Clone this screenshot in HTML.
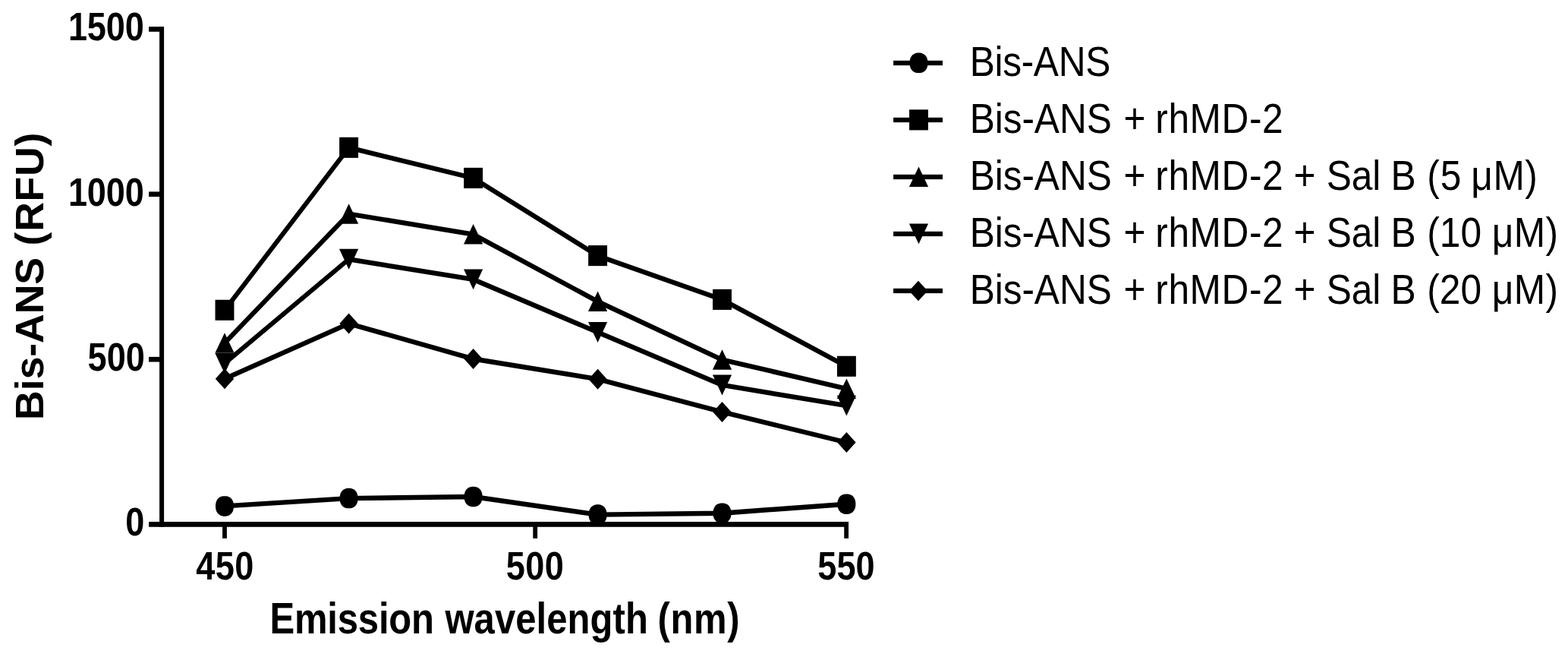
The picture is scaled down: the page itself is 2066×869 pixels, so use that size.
<!DOCTYPE html>
<html lang="en">
<head>
<meta charset="utf-8">
<title>Bis-ANS fluorescence emission</title>
<style>
html,body{margin:0;padding:0;background:#fff;}
body{width:2066px;height:869px;overflow:hidden;}
svg{display:block;}
text{font-family:"Liberation Sans",Arial,Helvetica,sans-serif;fill:#000;white-space:pre;}
</style>
</head>
<body>
<svg width="2066" height="869" viewBox="0 0 2066 869" role="img" aria-label="Bis-ANS fluorescence emission spectra">
<rect width="2066" height="869" fill="#fff"/>
<g id="axes" fill="#000">
<rect x="210.1" y="35.1" width="6" height="658.7"/>
<rect x="196.1" y="687" width="921.9" height="6.8"/>
<rect x="196.1" y="35.15" width="16" height="6.6"/>
<rect x="196.1" y="252.4" width="16" height="6.6"/>
<rect x="196.1" y="469.9" width="16" height="6.6"/>
<rect x="293.1" y="687" width="5.8" height="21.9"/>
<rect x="702.3" y="687" width="5.8" height="21.9"/>
<rect x="1112.25" y="687" width="5.8" height="21.9"/>
</g>
<g id="ticklabels">
<text transform="translate(0,53.25) scale(0.4510,0.5120)" font-size="100" font-weight="bold"><tspan x="199.43" letter-spacing="-0.319">1500</tspan></text>
<text transform="translate(0,270.5) scale(0.4510,0.5120)" font-size="100" font-weight="bold"><tspan x="199.43" letter-spacing="-0.319">1000</tspan></text>
<text transform="translate(0,488) scale(0.4510,0.5120)" font-size="100" font-weight="bold"><tspan x="256.17" letter-spacing="0.073">500</tspan></text>
<text transform="translate(0,705.25) scale(0.4510,0.5120)" font-size="100" font-weight="bold"><tspan x="366.62">0</tspan></text>
<text transform="translate(0,763) scale(0.4510,0.5120)" font-size="100" font-weight="bold"><tspan x="572.78" letter-spacing="0.75">450</tspan></text>
<text transform="translate(0,763) scale(0.4510,0.5120)" font-size="100" font-weight="bold"><tspan x="1478.12" letter-spacing="1.07">500</tspan></text>
<text transform="translate(0,763) scale(0.4510,0.5120)" font-size="100" font-weight="bold"><tspan x="2388.77" letter-spacing="0.073">550</tspan></text>
</g>
<g id="titles">
<text transform="translate(0,833.75) scale(0.4900,0.5700)" font-size="100" font-weight="bold"><tspan x="725.49" letter-spacing="-0.367">Emission</tspan> <tspan x="1196.78" letter-spacing="0.162">wavelength</tspan> <tspan x="1768.47" letter-spacing="1.303">(nm)</tspan></text>
<text transform="translate(57.45,560) rotate(-90) scale(0.5370,0.5120)" font-size="100" font-weight="bold"><tspan x="13.18" letter-spacing="-0.236">Bis-ANS</tspan> <tspan x="440.62" letter-spacing="1.244">(RFU)</tspan></text>
</g>
<g id="lines" transform="scale(0.905,1)" fill="none" stroke="#000" stroke-width="6.4" stroke-linejoin="miter" stroke-linecap="butt">
<polyline points="327.07,666.4 507.85,656.1 689.06,654 870.28,677.6 1051.38,675.7 1232.49,663.7"/>
<polyline points="327.07,408.4 507.85,194.4 689.06,234.5 870.28,336.7 1051.38,394.5 1232.49,482.4"/>
<polyline points="327.07,451.6 507.85,281.6 689.06,308.5 870.28,397 1051.38,473.6 1232.49,511.8"/>
<polyline points="327.07,478.5 507.85,341.3 689.06,367.9 870.28,437.5 1051.38,507 1232.49,534.2"/>
<polyline points="327.07,498.7 507.85,426.1 689.06,472.5 870.28,499.2 1051.38,542.4 1232.49,582.5"/>
</g>
<g id="markers" fill="#000">
<polygon points="307.95,668.09 307.54,670.83 306.73,673.22 305.55,675.28 304.01,676.98 302.15,678.29 300,679.19 297.52,679.64 294.48,679.64 292,679.19 289.85,678.29 287.99,676.98 286.45,675.28 285.27,673.22 284.46,670.83 284.05,668.09 284.05,664.71 284.46,661.97 285.27,659.58 286.45,657.52 287.99,655.82 289.85,654.51 292,653.61 294.48,653.16 297.52,653.16 300,653.61 302.15,654.51 304.01,655.82 305.55,657.52 306.73,659.58 307.54,661.97 307.95,664.71"/>
<polygon points="471.55,657.79 471.14,660.53 470.33,662.92 469.15,664.98 467.61,666.68 465.75,667.99 463.6,668.89 461.12,669.34 458.08,669.34 455.6,668.89 453.45,667.99 451.59,666.68 450.05,664.98 448.87,662.92 448.06,660.53 447.65,657.79 447.65,654.41 448.06,651.67 448.87,649.28 450.05,647.22 451.59,645.52 453.45,644.21 455.6,643.31 458.08,642.86 461.12,642.86 463.6,643.31 465.75,644.21 467.61,645.52 469.15,647.22 470.33,649.28 471.14,651.67 471.55,654.41"/>
<polygon points="635.55,655.69 635.14,658.43 634.33,660.82 633.15,662.88 631.61,664.58 629.75,665.89 627.6,666.79 625.12,667.24 622.08,667.24 619.6,666.79 617.45,665.89 615.59,664.58 614.05,662.88 612.87,660.82 612.06,658.43 611.65,655.69 611.65,652.31 612.06,649.57 612.87,647.18 614.05,645.12 615.59,643.42 617.45,642.11 619.6,641.21 622.08,640.76 625.12,640.76 627.6,641.21 629.75,642.11 631.61,643.42 633.15,645.12 634.33,647.18 635.14,649.57 635.55,652.31"/>
<polygon points="799.55,679.29 799.14,682.03 798.33,684.42 797.15,686.48 795.61,688.18 793.75,689.49 791.6,690.39 789.12,690.84 786.08,690.84 783.6,690.39 781.45,689.49 779.59,688.18 778.05,686.48 776.87,684.42 776.06,682.03 775.65,679.29 775.65,675.91 776.06,673.17 776.87,670.78 778.05,668.72 779.59,667.02 781.45,665.71 783.6,664.81 786.08,664.36 789.12,664.36 791.6,664.81 793.75,665.71 795.61,667.02 797.15,668.72 798.33,670.78 799.14,673.17 799.55,675.91"/>
<polygon points="963.45,677.39 963.04,680.13 962.23,682.52 961.05,684.58 959.51,686.28 957.65,687.59 955.5,688.49 953.02,688.94 949.98,688.94 947.5,688.49 945.35,687.59 943.49,686.28 941.95,684.58 940.77,682.52 939.96,680.13 939.55,677.39 939.55,674.01 939.96,671.27 940.77,668.88 941.95,666.82 943.49,665.12 945.35,663.81 947.5,662.91 949.98,662.46 953.02,662.46 955.5,662.91 957.65,663.81 959.51,665.12 961.05,666.82 962.23,668.88 963.04,671.27 963.45,674.01"/>
<polygon points="1127.35,665.39 1126.94,668.13 1126.13,670.52 1124.95,672.58 1123.41,674.28 1121.55,675.59 1119.4,676.49 1116.92,676.94 1113.88,676.94 1111.4,676.49 1109.25,675.59 1107.39,674.28 1105.85,672.58 1104.67,670.52 1103.86,668.13 1103.45,665.39 1103.45,662.01 1103.86,659.27 1104.67,656.88 1105.85,654.82 1107.39,653.12 1109.25,651.81 1111.4,650.91 1113.88,650.46 1116.92,650.46 1119.4,650.91 1121.55,651.81 1123.41,653.12 1124.95,654.82 1126.13,656.88 1126.94,659.27 1127.35,662.01"/>
<rect x="283.55" y="394.75" width="24.9" height="27.1"/>
<rect x="447.15" y="180.75" width="24.9" height="27.1"/>
<rect x="611.15" y="220.85" width="24.9" height="27.1"/>
<rect x="775.15" y="323.05" width="24.9" height="27.1"/>
<rect x="939.05" y="380.85" width="24.9" height="27.1"/>
<rect x="1102.95" y="468.75" width="24.9" height="27.1"/>
<polygon points="296,438.2 308.6,464.7 283.4,464.7"/>
<polygon points="459.6,268.2 472.2,294.7 447,294.7"/>
<polygon points="623.6,295.1 636.2,321.6 611,321.6"/>
<polygon points="787.6,383.6 800.2,410.1 775,410.1"/>
<polygon points="951.5,460.2 964.1,486.7 938.9,486.7"/>
<polygon points="1115.4,498.4 1128,524.9 1102.8,524.9"/>
<polygon points="296,491.9 308.6,465 283.4,465"/>
<polygon points="459.6,354.7 472.2,327.8 447,327.8"/>
<polygon points="623.6,381.3 636.2,354.4 611,354.4"/>
<polygon points="787.6,450.9 800.2,424 775,424"/>
<polygon points="951.5,520.4 964.1,493.5 938.9,493.5"/>
<polygon points="1115.4,547.6 1128,520.7 1102.8,520.7"/>
<polygon points="296,485.2 308.2,498.7 296,512.2 283.8,498.7"/>
<polygon points="459.6,412.6 471.8,426.1 459.6,439.6 447.4,426.1"/>
<polygon points="623.6,459 635.8,472.5 623.6,486 611.4,472.5"/>
<polygon points="787.6,485.7 799.8,499.2 787.6,512.7 775.4,499.2"/>
<polygon points="951.5,528.9 963.7,542.4 951.5,555.9 939.3,542.4"/>
<polygon points="1115.4,569 1127.6,582.5 1115.4,596 1103.2,582.5"/>
</g>
<g id="legend" fill="#000">
<rect x="1177.1" y="79.8" width="64.9" height="6.3"/>
<polygon points="1222.45,84.54 1222.04,87.28 1221.23,89.67 1220.05,91.73 1218.51,93.43 1216.65,94.74 1214.5,95.64 1212.02,96.09 1208.98,96.09 1206.5,95.64 1204.35,94.74 1202.49,93.43 1200.95,91.73 1199.77,89.67 1198.96,87.28 1198.55,84.54 1198.55,81.16 1198.96,78.42 1199.77,76.03 1200.95,73.97 1202.49,72.27 1204.35,70.96 1206.5,70.06 1208.98,69.61 1212.02,69.61 1214.5,70.06 1216.65,70.96 1218.51,72.27 1220.05,73.97 1221.23,76.03 1222.04,78.42 1222.45,81.16"/>
<text transform="translate(0,100.1) scale(0.4970,0.5640)" font-size="100"><tspan x="2570.82" letter-spacing="-0.706">Bis-ANS</tspan></text>
<rect x="1177.1" y="154.8" width="64.9" height="6.3"/>
<rect x="1198.05" y="144.3" width="24.9" height="27.1"/>
<text transform="translate(0,175.1) scale(0.4970,0.5640)" font-size="100"><tspan x="2570.82" letter-spacing="-0.203">Bis-ANS</tspan> <tspan x="2978.7">+</tspan> <tspan x="3063.07" letter-spacing="1.052">rhMD-2</tspan></text>
<rect x="1177.1" y="229.8" width="64.9" height="6.3"/>
<polygon points="1210.5,219.55 1223.1,246.05 1197.9,246.05"/>
<text transform="translate(0,250.1) scale(0.4970,0.5640)" font-size="100"><tspan x="2570.82" letter-spacing="-0.203">Bis-ANS</tspan> <tspan x="2978.7">+</tspan> <tspan x="3063.07" letter-spacing="1.052">rhMD-2</tspan> <tspan x="3429.61">+</tspan> <tspan x="3516.83" letter-spacing="-0.327">Sal</tspan> <tspan x="3687.32">B</tspan> <tspan x="3783.09" letter-spacing="2.184">(5</tspan> <tspan x="3900.09" letter-spacing="0.965">μM)</tspan></text>
<rect x="1177.1" y="304.8" width="64.9" height="6.3"/>
<polygon points="1210.5,321.35 1223.1,294.45 1197.9,294.45"/>
<text transform="translate(0,325.1) scale(0.4970,0.5640)" font-size="100"><tspan x="2570.82" letter-spacing="-0.203">Bis-ANS</tspan> <tspan x="2978.7">+</tspan> <tspan x="3063.07" letter-spacing="1.052">rhMD-2</tspan> <tspan x="3429.61">+</tspan> <tspan x="3516.83" letter-spacing="-0.327">Sal</tspan> <tspan x="3687.32">B</tspan> <tspan x="3783.09" letter-spacing="0.078">(10</tspan> <tspan x="3955.02" letter-spacing="0.763">μM)</tspan></text>
<rect x="1177.1" y="379.8" width="64.9" height="6.3"/>
<polygon points="1210,369.75 1222.3,382.95 1210,396.15 1197.7,382.95"/>
<text transform="translate(0,400.1) scale(0.4970,0.5640)" font-size="100"><tspan x="2570.82" letter-spacing="-0.203">Bis-ANS</tspan> <tspan x="2978.7">+</tspan> <tspan x="3063.07" letter-spacing="1.052">rhMD-2</tspan> <tspan x="3429.61">+</tspan> <tspan x="3516.83" letter-spacing="-0.327">Sal</tspan> <tspan x="3687.32">B</tspan> <tspan x="3783.09" letter-spacing="0.078">(20</tspan> <tspan x="3955.02" letter-spacing="0.763">μM)</tspan></text>
</g>
</svg>
</body>
</html>
